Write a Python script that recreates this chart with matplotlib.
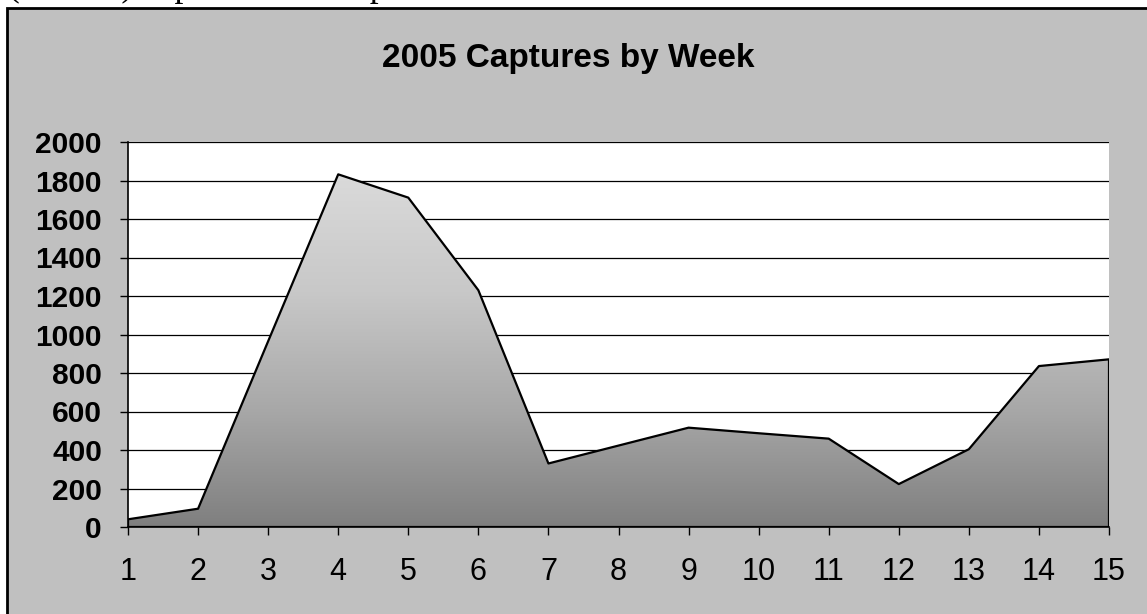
import numpy as np
import matplotlib
matplotlib.use("Agg")
import matplotlib.pyplot as plt
from matplotlib.colors import LinearSegmentedColormap
from matplotlib.patches import Rectangle

# Weekly capture counts for 2005
weeks = list(range(1, 16))
captures = [40, 95, 965, 1832, 1711, 1230, 330, 423, 516, 487, 459, 223, 404, 836, 871]
y_ticks = list(range(0, 2001, 200))
title = "2005 Captures by Week"
caption_line = "(week 1) is plotted each species."

W, H = 1147, 614
plt.rcParams["font.family"] = ["Liberation Sans", "DejaVu Sans"]

fig = plt.figure(figsize=(W / 100, H / 100), dpi=100)
fig.patch.set_facecolor("white")

# Tail of the preceding document line above the chart
fig.text(8 / W, 1 + 4 / H, caption_line, family=["Liberation Serif", "DejaVu Serif"],
         fontsize=25.6, ha="left", va="baseline", color="black")

# Grey chart panel with black border (runs past the right and bottom edges)
panel = Rectangle((7 / W, -0.1), 1.2, (1 - 8 / H) + 0.1,
                  transform=fig.transFigure, facecolor="#C0C0C0",
                  edgecolor="black", linewidth=2, zorder=-10)
fig.patches.append(panel)

ax = fig.add_axes([128 / W, 1 - 527 / H, (1109 - 128) / W, (527 - 142) / H])
ax.set_zorder(1)
ax.set_facecolor("white")

ax.set_axisbelow(True)
ax.set_yticks(y_ticks)
ax.set_xticks(weeks)
ax.yaxis.grid(True, color="black", linewidth=0.9)

# Area with a vertical grey gradient, clipped to the data polygon
poly = ax.fill_between(weeks, captures, 0, facecolor="none", edgecolor="black",
                       linewidth=1.6, zorder=3)
cmap = LinearSegmentedColormap.from_list("grey_grad", ["#7f7f7f", "#a8a8a8", "#c8c8c8", "#dadada"])
grad = np.linspace(0, 1, 256).reshape(-1, 1)
im = ax.imshow(grad, extent=[weeks[0], weeks[-1], 0, max(captures)], origin="lower",
               cmap=cmap, aspect="auto", zorder=2, interpolation="bilinear")
im.set_clip_path(poly.get_paths()[0], transform=ax.transData)
ax.set_xlim(weeks[0], weeks[-1])
ax.set_ylim(y_ticks[0], y_ticks[-1])

for side in ("top", "right"):
    ax.spines[side].set_visible(False)
for side in ("left", "bottom"):
    ax.spines[side].set_color("black")
    ax.spines[side].set_linewidth(1.2)
    ax.spines[side].set_zorder(4)

ax.tick_params(axis="y", direction="out", length=5.8, width=1, pad=13,
               labelsize=21.5, colors="black")
ax.tick_params(axis="x", direction="out", length=5.8, width=1, pad=16,
               labelsize=22, colors="black")
for lbl in ax.get_yticklabels():
    lbl.set_fontweight("bold")

fig.text(568 / W, 1 - 58 / H, title, ha="center", va="center",
         fontsize=24, fontweight="bold", color="black")

fig.savefig("out.png", dpi=100)
